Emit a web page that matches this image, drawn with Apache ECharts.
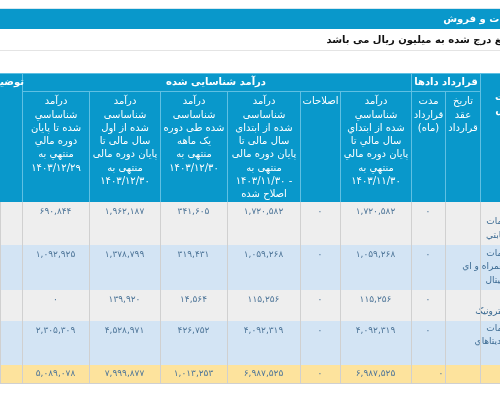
<!DOCTYPE html>
<html><head><meta charset="utf-8">
<script src="https://cdn.jsdelivr.net/npm/echarts@6/dist/echarts.min.js"></script>
<style>html,body{margin:0;padding:0;background:#fff}#c{width:500px;height:400px}</style>
</head><body><div id="c"></div>
<script>
// ---- data ----
const title = "درآمد خدمات و فروش";
const note = "کلیه مبالغ درج شده به میلیون ریال می باشد";
const groupHeaders = ["توضیح", "درآمد شناسایی شده", "قرارداد دادها", "شرح\nخدمات\nفروش"];
const subHeaders = [
  "درآمد\nشناساسي\nشده تا پايان\nدوره مالي\nمنتهي به\n۱۴۰۳/۱۲/۲۹",
  "درآمد\nشناساسی\nشده از اول\nسال مالی تا\nپایان دوره مالی\nمنتهی به\n۱۴۰۳/۱۲/۳۰",
  "درآمد\nشناساسی\nشده طی دوره\nیک ماهه\nمنتهی به\n۱۴۰۳/۱۲/۳۰",
  "درآمد\nشناساسی\nشده از ابتدای\nسال مالی تا\nپایان دوره مالی\nمنتهی به\n۱۴۰۳/۱۱/۳۰ -\nاصلاح شده",
  "اصلاحات",
  "درآمد\nشناساسي\nشده از ابتداي\nسال مالي تا\nپايان دوره مالي\nمنتهي به\n۱۴۰۳/۱۱/۳۰",
  "مدت\nقرارداد\n(ماه)",
  "تاریخ\nعقد\nقرارداد"
];
const rowNames = ["فروش خدمات\nارتباطات ثابتي", "فروش خدمات\nارتباطات همراه و اي\nسيار و ديجيتال", "فروش\nخدمات الکترونیک", "فروش خدمات\nپهن باند و ديتاهاي\nسيار ثابت"];
const row1 = [690844, 1962187, 341605, 1720582, 0, 1720582, 0];
const row2 = [1092925, 1378799, 319431, 1059268, 0, 1059268, 0];
const row3 = [0, 139920, 14564, 115256, 0, 115256, 0];
const row4 = [2305309, 4528971, 426752, 4092319, 0, 4092319, 0];
const totalRow = [5089078, 7999877, 1013253, 6987525, 0, 6987525, 0];

// ---- layout ----
const colX = [22, 89, 160, 227, 300, 340, 411, 445, 480];
const rowY = [202, 245, 290, 321, 365, 383];
const rowFill = ["#eeeeee", "#d3e4f4", "#eeeeee", "#d3e4f4", "#fde39d"];
const FONT = "DejaVu Sans";
const BLUE = "#0998cb", LINE = "#5fc0e3", GRID = "#d0d0d0";

function fa(n) {
  const s = n.toLocaleString("en-US");
  return s.replace(/\d/g, d => "۰۱۲۳۴۵۶۷۸۹"[+d]);
}
const g = [];
function rect(x, y, w, h, fill, stroke) {
  g.push({type: "rect", shape: {x, y, width: w, height: h}, style: {fill, stroke: stroke || null, lineWidth: 1}});
}
function text(x, y, t, o) {
  o = o || {};
  g.push({type: "text", x, y, style: {text: t, fill: o.fill || "#fff", font: (o.bold ? "bold " : "") + (o.size || 10) + "px '" + FONT + "'",
    align: o.align || "center", verticalAlign: o.va || "top", lineHeight: o.lh || 13.3}});
}
function line(x1, y1, x2, y2, c) {
  g.push({type: "line", shape: {x1, y1, x2, y2}, style: {stroke: c, lineWidth: 1}});
}
// top bars
line(0, 8.5, 500, 8.5, "#d8e8f0");
rect(0, 9, 500, 20, BLUE);
text(552, 19, title, {align: "right", va: "middle", bold: true, size: 10});
text(543, 40, note, {align: "right", va: "middle", bold: true, size: 10, fill: "#111"});
line(0, 50.5, 500, 50.5, "#e4e4e4");
// header
rect(0, 73, 500, 129, BLUE);
line(0, 73.5, 500, 73.5, LINE);
line(22, 91.5, 480, 91.5, LINE);
[22, 411, 480].forEach(x => line(x + 0.5, 73, x + 0.5, 202, LINE));
[89, 160, 227, 300, 340, 445].forEach(x => line(x + 0.5, 91, x + 0.5, 202, LINE));
text(24, 82, groupHeaders[0], {align: "right", va: "middle", size: 10, bold: true});
text(216, 82, groupHeaders[1], {va: "middle", size: 10, bold: true});
text(446, 82, groupHeaders[2], {va: "middle", size: 10, bold: true});
text(528, 77, groupHeaders[3], {align: "right", size: 10, bold: true});
subHeaders.forEach((t, i) => text((colX[i] + colX[i + 1]) / 2 + 0.5, 95, t, {size: 10}));
// body
const rows = [row1, row2, row3, row4, totalRow];
rows.forEach((r, ri) => {
  const y0 = rowY[ri], y1 = rowY[ri + 1];
  rect(0, y0, 500, y1 - y0, rowFill[ri]);
  line(0, y1 + 0.5, 500, y1 + 0.5, GRID);
  const total = ri === 4;
  r.forEach((v, ci) => {
    let cx = (colX[ci] + colX[ci + 1]) / 2;
    if (total && ci === 6) cx = 441;
    text(cx, total ? (y0 + y1) / 2 : y0 + 10, fa(v), {va: "middle", size: 9, fill: "#4f7699"});
  });
  if (!total) text(540, y1 - 3, rowNames[ri], {align: "right", va: "bottom", size: 9, fill: "#3b6a92"});
});
colX.forEach(x => line(x + 0.5, 202, x + 0.5, 383, GRID));
line(0.5, 202, 0.5, 383, GRID);

const chart = echarts.init(document.getElementById("c"));
chart.setOption({animation: false, graphic: {elements: g}});
</script></body></html>
